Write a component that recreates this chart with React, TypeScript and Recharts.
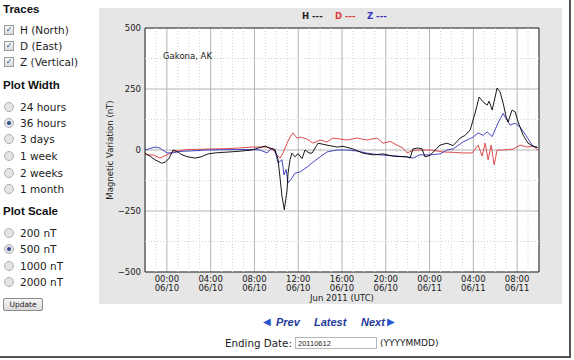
import { LineChart, Line, XAxis, YAxis, CartesianGrid, ReferenceLine, ReferenceArea } from "recharts";

// hours since 00:00 06/10 (UTC), nT
const hPoints = [
  [-2, -14], [-1.54, -25], [-1.09, -40], [-0.48, -54], [-0.17, -50], [0.19, -35], [0.56, 0], [0.92, -5],
  [1.38, -20], [1.93, -28], [2.57, -33], [3.12, -28], [3.76, -16], [4.4, -12], [5.03, -10], [6.4, -6],
  [7.78, 0], [8.33, 8], [8.97, 16], [9.42, 8], [9.88, 2], [10.16, -40], [10.52, -190], [10.73, -245],
  [10.98, -165], [11.07, -95], [11.25, -40], [11.43, -13], [11.71, -28], [11.98, -15], [12.35, -35],
  [12.62, 0], [12.99, -12], [13.26, -13], [13.81, 28], [14.63, 20], [15.55, 12], [16.1, 15], [17.01, 4],
  [17.93, -13], [18.85, -20], [19.74, -16], [20.66, -25], [21.3, -27], [21.94, -28], [22.22, -33],
  [22.49, 5], [22.94, 8], [23.31, 5], [23.58, -28], [24.04, -22], [24.95, 20], [25.59, 28], [26.15, 18],
  [26.79, 49], [27.25, 60], [27.71, 82], [28.16, 151], [28.53, 217], [28.9, 197], [29.26, 184],
  [29.44, 200], [29.72, 164], [29.99, 217], [30.17, 254], [30.44, 238], [30.72, 193], [30.99, 137],
  [31.18, 115], [31.54, 164], [31.82, 156], [32.09, 115], [32.55, 61], [33.0, 28], [33.46, 15], [33.82, 12],
];

const dPoints = [
  [-2, -10], [-1.82, -20], [-1.27, -20], [-0.63, -33], [0.01, -20], [0.56, -8], [1.47, 0], [2.11, 2],
  [3.94, 4], [5.77, 6], [7.87, 12], [9.15, 12], [9.7, 0], [10.06, -20], [10.34, -33], [10.61, -12],
  [10.98, 28], [11.25, 53], [11.53, 70], [11.9, 48], [12.17, 53], [12.81, 45], [13.35, 28], [14.0, 41],
  [14.63, 33], [15.18, 49], [15.82, 45], [16.46, 41], [17.37, 49], [18.29, 41], [19.2, 49], [19.75, 28],
  [20.39, 35], [21.03, 20], [21.58, 8], [21.94, -12], [22.49, -2], [23.11, 0], [24.04, 0], [25.23, -8],
  [26.33, -10], [27.06, -12], [27.89, -12], [28.44, 20], [28.8, -25], [29.08, 28], [29.35, -40],
  [29.63, 20], [29.9, -61], [30.17, 0], [30.72, 0], [31.63, 4], [32.27, 20], [32.91, 12], [33.46, 16],
  [33.91, 0],
];

const zPoints = [
  [-2, 0], [-1.54, 6], [-1.09, 12], [-0.63, 8], [0.01, -12], [0.56, -12], [1.2, -6], [2.11, -4],
  [3.66, 0], [6.68, 2], [7.87, 2], [8.51, 0], [9.15, -12], [9.6, 8], [9.88, -4], [10.16, -53],
  [10.52, -40], [10.7, -102], [10.89, -80], [11.07, -135], [11.34, -120], [11.71, -95], [12.17, -90],
  [12.81, -70], [13.35, -50], [14.0, -28], [14.63, -8], [15.55, 0], [16.46, 0], [17.37, -4],
  [18.29, -13], [19.47, -20], [20.66, -24], [21.94, -28], [22.49, -33], [23.11, -20], [24.04, -20],
  [24.95, -16], [25.59, 0], [26.15, 4], [27.06, 33], [27.98, 53], [28.44, 70], [28.9, 60], [29.26, 74],
  [29.72, 55], [30.26, 111], [30.72, 150], [30.9, 135], [31.36, 102], [31.82, 110], [32.27, 94],
  [32.91, 53], [33.37, 20], [33.64, 12], [33.91, 10],
];

const xTicks = [0, 4, 8, 12, 16, 20, 24, 28, 32];
const xTickLabels = [
  ["00:00", "06/10"], ["04:00", "06/10"], ["08:00", "06/10"], ["12:00", "06/10"], ["16:00", "06/10"],
  ["20:00", "06/10"], ["00:00", "06/11"], ["04:00", "06/11"], ["08:00", "06/11"],
];
const minorX = [-1, 1, 2, 3, 5, 6, 7, 9, 10, 11, 13, 14, 15, 17, 18, 19, 21, 22, 23, 25, 26, 27, 29, 30, 31, 33];
const yTicks = [-500, -250, 0, 250, 500];
const minorY = [-375, -125, 125, 375];

const traceOptions = ["H (North)", "D (East)", "Z (Vertical)"];
const widthOptions = ["24 hours", "36 hours", "3 days", "1 week", "2 weeks", "1 month"];
const scaleOptions = ["200 nT", "500 nT", "1000 nT", "2000 nT"];

const toRows = (pts: number[][]) => pts.map(([t, v]) => ({ t, v }));

const chartFont = "'DejaVu Sans', sans-serif";
const uiFont = "'DejaVu Sans', Verdana, sans-serif";
const headFont = "'Liberation Sans', Arial, sans-serif";

function TimeTick(props: any) {
  const { x, y, payload } = props;
  const idx = xTicks.indexOf(payload.value);
  const lines = xTickLabels[idx] || ["", ""];
  return (
    <text x={x} y={y} textAnchor="middle" fontSize={8.5} fontFamily={chartFont} fill="#1a1a1a">
      <tspan x={x} dy={1.5}>{lines[0]}</tspan>
      <tspan x={x} dy={9.5}>{lines[1]}</tspan>
    </text>
  );
}

function CheckBox() {
  return (
    <span style={{ position: "absolute", left: 4, top: 2, width: 8, height: 8, border: "1px solid #9a9a9a", background: "linear-gradient(#fafafa,#dcdcdc)", fontSize: 8, lineHeight: "8px", color: "#2b4e9a", textAlign: "center", fontWeight: "bold" }}>✓</span>
  );
}

function Radio({ on }: { on: boolean }) {
  return (
    <span style={{ position: "absolute", left: 4, top: 2, width: 8, height: 8, borderRadius: "50%", border: "1px solid #b0b0b0", background: "#e4e4e4" }}>
      {on && <span style={{ position: "absolute", left: 2, top: 2, width: 4, height: 4, borderRadius: "50%", background: "#2a4d8c" }} />}
    </span>
  );
}

function Row({ top, label, kind, on }: { top: number; label: string; kind: "check" | "radio"; on: boolean }) {
  return (
    <div style={{ position: "absolute", left: 0, top: top - 7, height: 14, width: 96, fontFamily: uiFont, fontSize: 10.5, lineHeight: "14px", color: "#222" }}>
      {kind === "check" ? <CheckBox /> : <Radio on={on} />}
      <span style={{ position: "absolute", left: 20, top: 0 }}>{label}</span>
    </div>
  );
}

const heading = (text: string, top: number) => (
  <div style={{ position: "absolute", left: 3, top: top - 7, fontFamily: headFont, fontWeight: "bold", fontSize: 11.5, lineHeight: "14px", color: "#111" }}>{text}</div>
);

export default function App() {
  const traceTops = [30, 46, 62];
  const widthTops = [107, 123, 139, 156, 173, 189];
  const scaleTops = [233, 249, 266, 282];
  return (
    <div style={{ position: "absolute", left: 0, top: 0, width: 574, height: 360, background: "#fff", overflow: "hidden" }}>
      {heading("Traces", 8.5)}
      {traceOptions.map((o, i) => <Row key={o} top={traceTops[i]} label={o} kind="check" on />)}
      {heading("Plot Width", 85)}
      {widthOptions.map((o, i) => <Row key={o} top={widthTops[i]} label={o} kind="radio" on={i === 1} />)}
      {heading("Plot Scale", 211)}
      {scaleOptions.map((o, i) => <Row key={o} top={scaleTops[i]} label={o} kind="radio" on={i === 1} />)}
      <div style={{ position: "absolute", left: 3, top: 298, width: 38, height: 11, border: "1px solid #8a8a8a", borderRadius: 2, background: "linear-gradient(#f7f7f7,#dadada)", fontFamily: uiFont, fontSize: 7.5, lineHeight: "11px", textAlign: "center", color: "#222" }}>Update</div>

      <div style={{ position: "absolute", left: 99, top: 8, width: 463, height: 296, background: "#e6e6e6" }}>
        <LineChart width={463} height={296} margin={{ top: 20, right: 23, bottom: 0, left: 0 }}>
          <CartesianGrid stroke="#b4b4b4" fill="#fff" />
          {minorX.map((m) => (
            <ReferenceLine key={"mx" + m} x={m} stroke="#d0d0d0" strokeDasharray="1 2" />
          ))}
          {minorY.map((m) => (
            <ReferenceLine key={"my" + m} y={m} stroke="#d0d0d0" strokeDasharray="1 2" />
          ))}
          <XAxis
            type="number"
            dataKey="t"
            domain={[-2, 34]}
            ticks={xTicks}
            allowDataOverflow
            height={32}
            tick={<TimeTick />}
            tickLine={false}
            axisLine={false}
            interval={0}
            label={{ value: "Jun 2011 (UTC)", position: "insideBottom", offset: 3, style: { fontSize: 8.5, fontFamily: chartFont, fill: "#1a1a1a" } }}
          />
          <YAxis
            type="number"
            domain={[-500, 500]}
            ticks={yTicks}
            width={46}
            tickLine={false}
            axisLine={false}
            tickSize={2}
            tickMargin={2}
            interval={0}
            tickFormatter={(v: number) => (v < 0 ? "\u2212" + Math.abs(v) : String(v))}
            tick={{ fontSize: 8.5, fontFamily: chartFont, fill: "#1a1a1a" }}
            label={{ value: "Magnetic Variation (nT)", angle: -90, position: "insideLeft", offset: 11, style: { textAnchor: "middle", fontSize: 8.5, fontFamily: chartFont, fill: "#1a1a1a" } }}
          />
          <Line data={toRows(dPoints)} dataKey="v" stroke="#d93a3a" strokeWidth={0.9} dot={false} isAnimationActive={false} type="linear" />
          <Line data={toRows(zPoints)} dataKey="v" stroke="#3434c0" strokeWidth={0.9} dot={false} isAnimationActive={false} type="linear" />
          <Line data={toRows(hPoints)} dataKey="v" stroke="#000" strokeWidth={0.9} dot={false} isAnimationActive={false} type="linear" />
          <ReferenceArea x1={-2} x2={34} y1={-500} y2={500} fill="none" stroke="#333" strokeWidth={1} ifOverflow="visible" />
        </LineChart>
        <div style={{ position: "absolute", left: 64, top: 43, fontFamily: chartFont, fontSize: 8.5, color: "#1a1a1a" }}>Gakona, AK</div>
        <div style={{ position: "absolute", left: 203, top: 3, fontFamily: chartFont, fontSize: 8.5, fontWeight: "bold", color: "#222" }}>H ---</div>
        <div style={{ position: "absolute", left: 236, top: 3, fontFamily: chartFont, fontSize: 8.5, fontWeight: "bold", color: "#d93a3a" }}>D ---</div>
        <div style={{ position: "absolute", left: 268, top: 3, fontFamily: chartFont, fontSize: 8.5, fontWeight: "bold", color: "#3434c0" }}>Z ---</div>
      </div>

      <div style={{ position: "absolute", left: 263, top: 315, fontFamily: headFont, fontSize: 11, fontWeight: "bold", fontStyle: "italic", color: "#1f3a9a", lineHeight: "14px", whiteSpace: "nowrap" }}>
        <span style={{ position: "absolute", left: 0, top: 0, fontStyle: "normal", fontFamily: uiFont, fontSize: 10, color: "#2b56d0" }}>◀</span>
        <span style={{ position: "absolute", left: 13, top: 0 }}>Prev</span>
        <span style={{ position: "absolute", left: 51, top: 0 }}>Latest</span>
        <span style={{ position: "absolute", left: 98, top: 0 }}>Next</span>
        <span style={{ position: "absolute", left: 124, top: 0, fontStyle: "normal", fontFamily: uiFont, fontSize: 10, color: "#2b56d0" }}>▶</span>
      </div>
      <div style={{ position: "absolute", left: 225, top: 336, fontFamily: uiFont, fontSize: 10.3, lineHeight: "14px", color: "#222" }}>Ending Date:</div>
      <div style={{ position: "absolute", left: 295, top: 337, width: 82, height: 12, border: "1px solid #b8b8b8", background: "#fff", fontFamily: headFont, fontSize: 7.5, lineHeight: "12px", color: "#222", paddingLeft: 2, boxSizing: "border-box" }}>20110612</div>
      <div style={{ position: "absolute", left: 380, top: 336, fontFamily: uiFont, fontSize: 9, lineHeight: "14px", color: "#222" }}>(YYYYMMDD)</div>

      <div style={{ position: "absolute", left: 0, top: 0, width: 569, height: 356, borderRight: "2px solid #555", borderBottom: "2px solid #555", pointerEvents: "none" }} />
    </div>
  );
}
